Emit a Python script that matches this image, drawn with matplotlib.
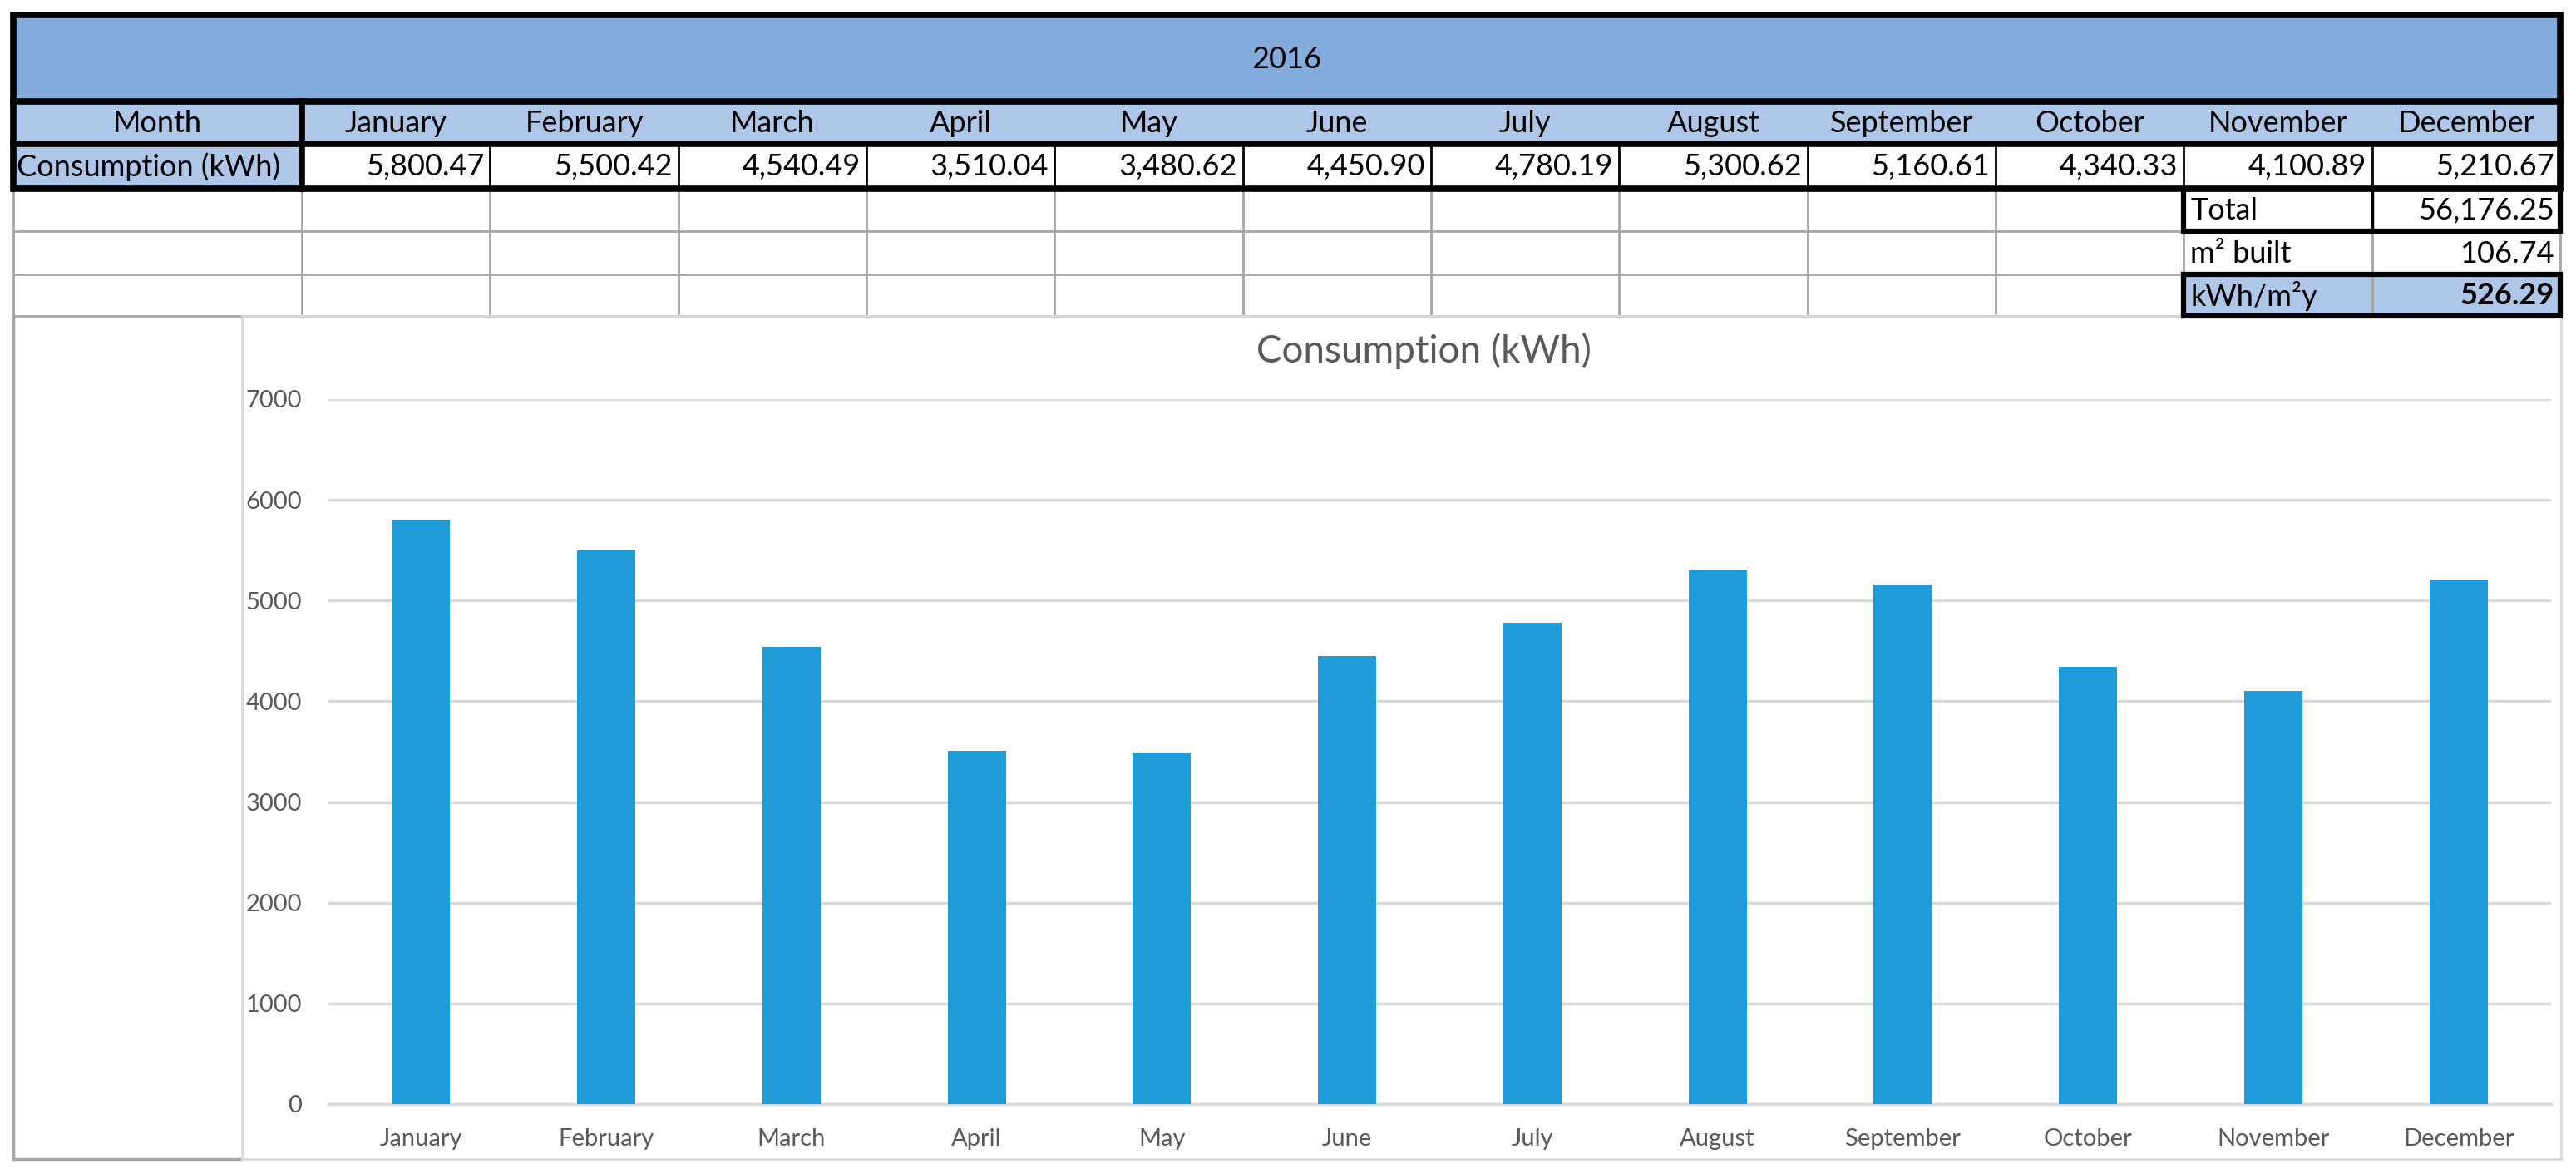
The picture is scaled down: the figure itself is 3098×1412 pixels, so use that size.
import matplotlib
matplotlib.use("Agg")
import matplotlib.pyplot as plt
from matplotlib.patches import Rectangle

plt.rcParams['font.family'] = ['Lato', 'DejaVu Sans']

# data
year = "2016"
months = ["January", "February", "March", "April", "May", "June", "July",
          "August", "September", "October", "November", "December"]
consumption = [5800.47, 5500.42, 4540.49, 3510.04, 3480.62, 4450.90,
               4780.19, 5300.62, 5160.61, 4340.33, 4100.89, 5210.67]
area_built = 106.74
total = sum(consumption)
intensity = total / area_built
yticks = [0, 1000, 2000, 3000, 4000, 5000, 6000, 7000]

# colours
header_blue = "#83ABDB"
light_blue = "#AEC7E9"
bar_blue = "#1F9BD8"
grid_gray = "#D9D9D9"
cell_gray = "#A6A6A6"
label_gray = "#595959"

W, H = 3098, 1412
fig = plt.figure(figsize=(W / 100, H / 100), dpi=100)

# sheet layer in pixel coordinates
sheet = fig.add_axes([0, 0, 1, 1])
sheet.set_xlim(0, W)
sheet.set_ylim(H, 0)
sheet.axis("off")

left, right = 16, 3079
first_col = 363
col_w = (right - first_col) / 12
col_edges = [first_col + i * col_w for i in range(13)]
top, y_head, y_month, y_cons = 18, 122, 173, 227
grid_rows = [278, 330, 380]
thick = 5.5
table_fs = 26

# fills
sheet.add_patch(Rectangle((left, top), right - left, y_head - top, color=header_blue, zorder=1))
sheet.add_patch(Rectangle((left, y_head), right - left, y_month - y_head, color=light_blue, zorder=1))
sheet.add_patch(Rectangle((left, y_month), first_col - left, y_cons - y_month, color=light_blue, zorder=1))
sheet.add_patch(Rectangle((col_edges[10], grid_rows[1]), col_edges[12] - col_edges[10],
                          grid_rows[2] - grid_rows[1], color=light_blue, zorder=1))

# gray sheet grid below the table
for y in grid_rows:
    sheet.plot([left, right], [y, y], color=cell_gray, lw=2, zorder=2)
for x in [left, first_col] + col_edges[1:]:
    sheet.plot([x, x], [y_cons, grid_rows[2]], color=cell_gray, lw=2, zorder=2)

# left empty cell and chart frame
sheet.plot([left, left], [grid_rows[2], 1394], color=cell_gray, lw=2.5, zorder=2)
sheet.plot([left, 291], [1394, 1394], color=cell_gray, lw=2.5, zorder=2)
sheet.add_patch(Rectangle((291, grid_rows[2]), 3080 - 291, 1394 - grid_rows[2],
                          fill=False, edgecolor=grid_gray, lw=2, zorder=2))

# thin black separators in consumption row
for x in col_edges[1:-1]:
    sheet.plot([x, x], [y_month, y_cons], color="black", lw=2, zorder=3)

# thick borders of main table
sheet.add_patch(Rectangle((left, top), right - left, y_cons - top, fill=False,
                          edgecolor="black", lw=thick, zorder=4))
for y in [y_head, y_month]:
    sheet.plot([left, right], [y, y], color="black", lw=thick, zorder=4)
sheet.plot([first_col, first_col], [y_head, y_cons], color="black", lw=thick, zorder=4)

# summary boxes
nx, dx, rx = col_edges[10], col_edges[11], col_edges[12]
sheet.add_patch(Rectangle((nx, y_cons), rx - nx, grid_rows[0] - y_cons, fill=False,
                          edgecolor="black", lw=thick - 1, zorder=4))
sheet.plot([dx, dx], [y_cons, grid_rows[0]], color="black", lw=2.5, zorder=4)
sheet.add_patch(Rectangle((nx, grid_rows[1]), rx - nx, grid_rows[2] - grid_rows[1], fill=False,
                          edgecolor="black", lw=thick - 1, zorder=4))
sheet.plot([dx, dx], [grid_rows[1], grid_rows[2]], color=cell_gray, lw=2, zorder=3)

# table texts
sheet.text((left + right) / 2, (top + y_head) / 2 + 2, year, ha="center", va="center", fontsize=table_fs)
sheet.text((left + first_col) / 2, (y_head + y_month) / 2 + 1, "Month", ha="center", va="center", fontsize=table_fs)
sheet.text(left + 4, (y_month + y_cons) / 2 + 1, "Consumption (kWh)", ha="left", va="center", fontsize=table_fs)
for i, (m, v) in enumerate(zip(months, consumption)):
    sheet.text((col_edges[i] + col_edges[i + 1]) / 2, (y_head + y_month) / 2 + 1, m,
               ha="center", va="center", fontsize=table_fs)
    sheet.text(col_edges[i + 1] - 7, (y_month + y_cons) / 2 + 1, f"{v:,.2f}",
               ha="right", va="center", fontsize=table_fs)

summary = [("Total", f"{total:,.2f}", "normal"),
           ("m² built", f"{area_built:,.2f}", "normal"),
           ("kWh/m²y", f"{intensity:,.2f}", "bold")]
row_tops = [y_cons] + grid_rows[:2]
row_bots = grid_rows
for (lab, val, wt), y0, y1 in zip(summary, row_tops, row_bots):
    yc = (y0 + y1) / 2 + 1
    sheet.text(nx + 8, yc, lab, ha="left", va="center", fontsize=table_fs)
    sheet.text(rx - 7, yc, val, ha="right", va="center", fontsize=table_fs, fontweight=wt)

# chart title
sheet.text(1712, 422, "Consumption (kWh)", ha="center", va="center", fontsize=33, color=label_gray)

# bar chart
ax = fig.add_axes([395 / W, 1 - 1328 / H, (3068 - 395) / W, (1328 - 480) / H])
ax.bar(range(len(months)), consumption, width=0.314, color=bar_blue, zorder=3)
ax.set_xlim(-0.5, len(months) - 0.5)
ax.set_ylim(0, 7000)
ax.set_yticks(yticks)
ax.set_xticks(range(len(months)))
ax.set_xticklabels(months)
ax.grid(axis="y", color=grid_gray, lw=2.5, zorder=0)
ax.set_axisbelow(True)
for side in ["top", "right", "left"]:
    ax.spines[side].set_visible(False)
ax.spines["bottom"].set_color(grid_gray)
ax.spines["bottom"].set_linewidth(2.5)
ax.tick_params(axis="both", length=0, labelsize=21, labelcolor=label_gray)
ax.tick_params(axis="y", pad=23)
ax.tick_params(axis="x", pad=21)
ax.patch.set_alpha(0)

fig.savefig("out.png", dpi=100)
